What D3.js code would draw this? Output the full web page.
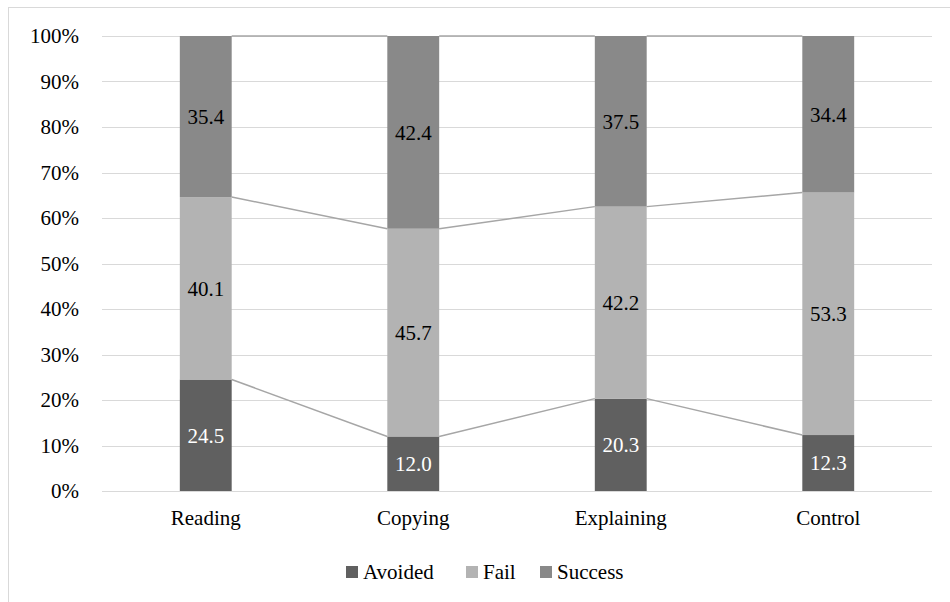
<!DOCTYPE html>
<html>
<head>
<meta charset="utf-8">
<script src="https://cdn.jsdelivr.net/npm/d3@7"></script>
</head>
<body style="margin:0;background:#fff">
<svg id="chart" width="950" height="602" style="display:block"></svg>
<script>
// Outcome shares per condition (percent)
const categories = ["Reading", "Copying", "Explaining", "Control"];
const seriesNames = ["Avoided", "Fail", "Success"];
const avoided = [24.5, 12.0, 20.3, 12.3];
const fail = [40.1, 45.7, 42.2, 53.3];
const success = [35.4, 42.4, 37.5, 34.4];
const yTicks = [0, 10, 20, 30, 40, 50, 60, 70, 80, 90, 100];

const colors = { Avoided: "#606060", Fail: "#b3b3b3", Success: "#898989" };
const labelColors = { Avoided: "#ffffff", Fail: "#000000", Success: "#000000" };
const FONT = '"Liberation Serif"';
const FS = "21px";

// Serif text styling applied inline so it wins over any inherited rules
function serif(sel) {
  return sel.style("font-family", FONT, "important").style("font-size", FS, "important");
}

const rows = categories.map((c, i) => {
  const total = avoided[i] + fail[i] + success[i];
  return { category: c, Avoided: avoided[i] / total * 100, Fail: fail[i] / total * 100,
           Success: success[i] / total * 100,
           raw: { Avoided: avoided[i], Fail: fail[i], Success: success[i] } };
});

const svg = d3.select("#chart");
const W = 950, H = 602;
const plot = { left: 102, right: 932, top: 36, bottom: 491 };

// Chart frame
svg.append("rect").attr("x", 8.5).attr("y", 7.5).attr("width", W + 10).attr("height", H + 10)
  .attr("fill", "#fff").attr("stroke", "#d9d9d9").attr("stroke-width", 1);

const x = d3.scaleBand().domain(categories).range([plot.left, plot.right]).paddingInner(0.75).paddingOuter(0.375);
const y = d3.scaleLinear().domain([0, 100]).range([plot.bottom, plot.top]);

// Gridlines
svg.append("g").selectAll("line").data(yTicks).join("line")
  .attr("x1", plot.left).attr("x2", plot.right)
  .attr("y1", d => Math.round(y(d)) + 0.5).attr("y2", d => Math.round(y(d)) + 0.5)
  .attr("stroke", "#d9d9d9").attr("stroke-width", 1);

// Y axis labels
const yAxis = d3.axisLeft(y).tickValues(yTicks).tickFormat(d => d + "%").tickSize(0).tickPadding(0);
const yg = svg.append("g").attr("transform", `translate(${plot.left - 23},0)`).call(yAxis);
yg.select(".domain").remove();
yg.attr("font-family", FONT).attr("font-size", FS);
serif(yg.selectAll("text").attr("fill", "#000"));

// X axis labels
const xAxis = d3.axisBottom(x).tickSize(0).tickPadding(0);
const xg = svg.append("g").attr("transform", `translate(0,${plot.bottom + 19})`).call(xAxis);
xg.select(".domain").remove();
xg.attr("font-family", FONT).attr("font-size", FS);
serif(xg.selectAll("text").attr("fill", "#000"));

const stack = d3.stack().keys(seriesNames)(rows);

// Series lines joining the top of each segment between adjacent bars
stack.forEach(layer => {
  const segs = [];
  for (let i = 0; i < layer.length - 1; i++) {
    segs.push({
      x1: x(categories[i]) + x.bandwidth(), y1: y(layer[i][1]),
      x2: x(categories[i + 1]), y2: y(layer[i + 1][1])
    });
  }
  svg.append("g").selectAll("line").data(segs).join("line")
    .attr("x1", d => d.x1).attr("y1", d => d.y1)
    .attr("x2", d => d.x2).attr("y2", d => d.y2)
    .attr("stroke", "#a6a6a6").attr("stroke-width", 1.5);
});

// Stacked bars
const layers = svg.append("g").selectAll("g").data(stack).join("g")
  .attr("fill", d => colors[d.key]);
layers.selectAll("rect").data(d => d).join("rect")
  .attr("x", d => x(d.data.category))
  .attr("width", x.bandwidth())
  .attr("y", d => y(d[1]))
  .attr("height", d => y(d[0]) - y(d[1]));

// Value labels
const labelData = stack.flatMap(layer => layer.map(d => ({ key: layer.key, d })));
serif(svg.selectAll("text.value").data(labelData).join("text")
  .attr("class", "value")
  .attr("x", o => x(o.d.data.category) + x.bandwidth() / 2)
  .attr("y", o => (y(o.d[0]) + y(o.d[1])) / 2)
  .attr("dy", "0.35em")
  .attr("text-anchor", "middle")
  .attr("fill", o => labelColors[o.key])
  .text(o => o.d.data.raw[o.key].toFixed(1)));

// Legend
const legendItems = [
  { key: "Avoided", x: 346 },
  { key: "Fail", x: 466 },
  { key: "Success", x: 540 }
];
svg.selectAll("rect.swatch").data(legendItems).join("rect")
  .attr("class", "swatch")
  .attr("x", d => d.x).attr("y", 566).attr("width", 12).attr("height", 12)
  .attr("fill", d => colors[d.key]);
serif(svg.selectAll("text.legend").data(legendItems).join("text")
  .attr("class", "legend")
  .attr("x", d => d.x + 17).attr("y", 572).attr("dy", "0.35em")
  .attr("fill", "#000")
  .text(d => d.key));
</script>
</body>
</html>
